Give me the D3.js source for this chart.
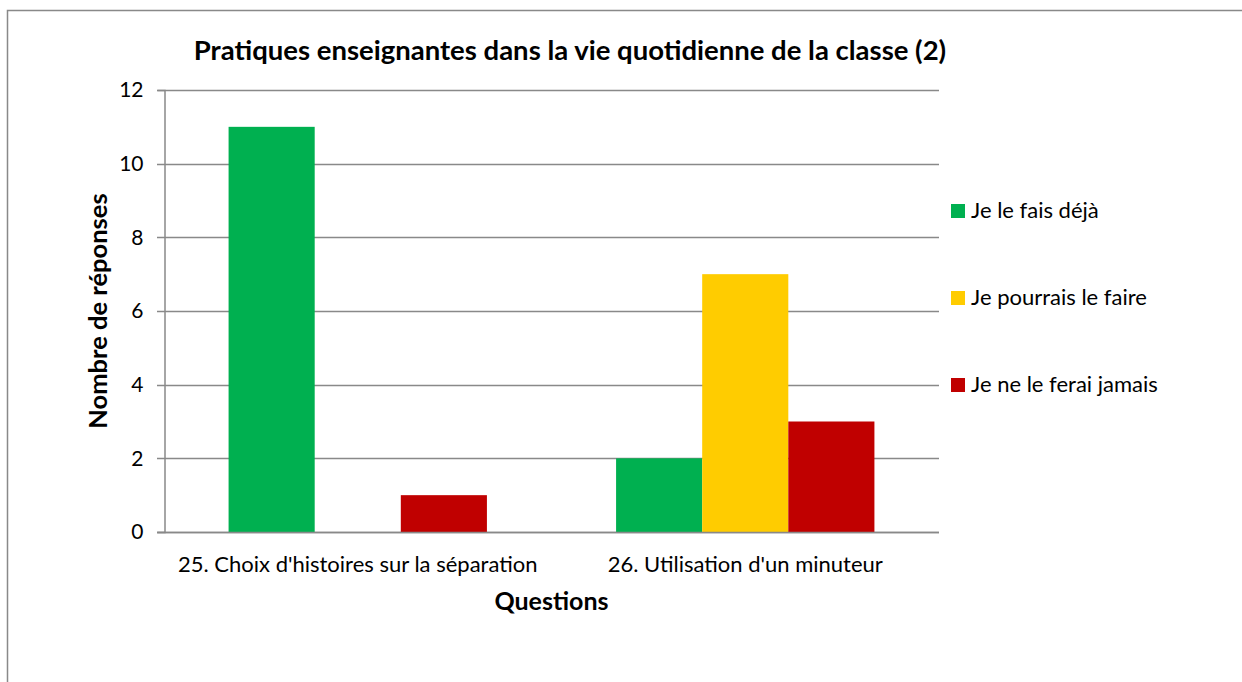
<!DOCTYPE html>
<html>
<head>
<meta charset="utf-8">
<script src="https://cdn.jsdelivr.net/npm/d3@7"></script>
<style>
  body { margin: 0; background: #fff; }
  text { font-family: Lato, "Open Sans", sans-serif; fill: #000; }
</style>
</head>
<body>
<div id="chart"></div>
<script>
// values
const questions = ["25. Choix d'histoires sur la séparation", "26. Utilisation d'un minuteur"];
const seriesNames = ["Je le fais déjà", "Je pourrais le faire", "Je ne le ferai jamais"];
const dejaValues = [11, 2];
const pourraisValues = [0, 7];
const jamaisValues = [1, 3];
const yTicks = [0, 2, 4, 6, 8, 10, 12];
const colors = ["#00B050", "#FFCC00", "#C00000"];

const seriesValues = [dejaValues, pourraisValues, jamaisValues];
const rows = questions.map((q, i) => ({
    question: q,
    values: seriesNames.map((s, j) => ({ key: s, value: seriesValues[j][i], color: colors[j] }))
}));

const pageWidth = 1242, pageHeight = 682;
const plot = { left: 164, right: 939, top: 90, bottom: 532 };

const svg = d3.select("#chart").append("svg")
    .attr("width", pageWidth)
    .attr("height", pageHeight);

// outer frame
svg.append("rect")
    .attr("x", 7.5).attr("y", 10.5)
    .attr("width", 1260).attr("height", 700)
    .attr("fill", "none").attr("stroke", "#898989").attr("stroke-width", 1.5);

const x0 = d3.scaleBand().domain(questions).range([plot.left, plot.right]).padding(0);
const x1 = d3.scaleBand().domain(seriesNames).range([0, x0.bandwidth()]).paddingInner(0).paddingOuter(0.75);
const y = d3.scaleLinear().domain([0, 12]).range([plot.bottom, plot.top]);

// gridlines
svg.append("g").selectAll("line")
    .data(yTicks)
    .enter().append("line")
    .attr("x1", plot.left - 7).attr("x2", plot.right)
    .attr("y1", d => Math.round(y(d)) + 0.5).attr("y2", d => Math.round(y(d)) + 0.5)
    .attr("stroke", "#898989").attr("stroke-width", 1.5);

// bars
svg.append("g").selectAll("g")
    .data(rows)
    .enter().append("g")
    .attr("transform", d => "translate(" + x0(d.question) + ",0)")
    .selectAll("rect")
    .data(d => d.values)
    .enter().append("rect")
    .attr("x", d => x1(d.key))
    .attr("width", x1.bandwidth())
    .attr("y", d => y(d.value))
    .attr("height", d => y(0) - y(d.value))
    .attr("fill", d => d.color);

// y axis
const yAxis = svg.append("g")
    .attr("transform", "translate(" + (plot.left + 0.5) + ",0)")
    .call(d3.axisLeft(y).tickValues(yTicks).tickSize(7).tickPadding(14));
yAxis.select(".domain").attr("stroke", "#898989").attr("stroke-width", 1.5);
yAxis.selectAll(".tick line").remove();
yAxis.selectAll("text").style("font-size", "21px").attr("fill", "#000");

// redraw zero line on top of bars
svg.append("line")
    .attr("x1", plot.left - 7).attr("x2", plot.right)
    .attr("y1", Math.round(y(0)) + 0.5).attr("y2", Math.round(y(0)) + 0.5)
    .attr("stroke", "#898989").attr("stroke-width", 1.5);

// x axis labels
svg.append("g").selectAll("text")
    .data(questions)
    .enter().append("text")
    .attr("x", d => x0(d) + x0.bandwidth() / 2)
    .attr("y", 572)
    .attr("text-anchor", "middle")
    .style("font-size", "22px")
    .text(d => d);

// title
svg.append("text")
    .attr("x", 570).attr("y", 60)
    .attr("text-anchor", "middle")
    .style("font-size", "27.5px").style("font-weight", "bold")
    .text("Pratiques enseignantes dans la vie quotidienne de la classe (2)");

// axis titles
svg.append("text")
    .attr("x", (plot.left + plot.right) / 2).attr("y", 610)
    .attr("text-anchor", "middle")
    .style("font-size", "25px").style("font-weight", "bold")
    .text("Questions");

svg.append("text")
    .attr("transform", "translate(107," + (plot.top + plot.bottom) / 2 + ") rotate(-90)")
    .attr("text-anchor", "middle")
    .style("font-size", "25.5px").style("font-weight", "bold")
    .text("Nombre de réponses");

// legend
const legend = svg.append("g").selectAll("g")
    .data(seriesNames)
    .enter().append("g")
    .attr("transform", (d, i) => "translate(951," + (204 + i * 87) + ")");
legend.append("rect")
    .attr("width", 14).attr("height", 14)
    .attr("fill", (d, i) => colors[i]);
legend.append("text")
    .attr("x", 20).attr("y", 14)
    .style("font-size", "22px")
    .text(d => d);
</script>
</body>
</html>
